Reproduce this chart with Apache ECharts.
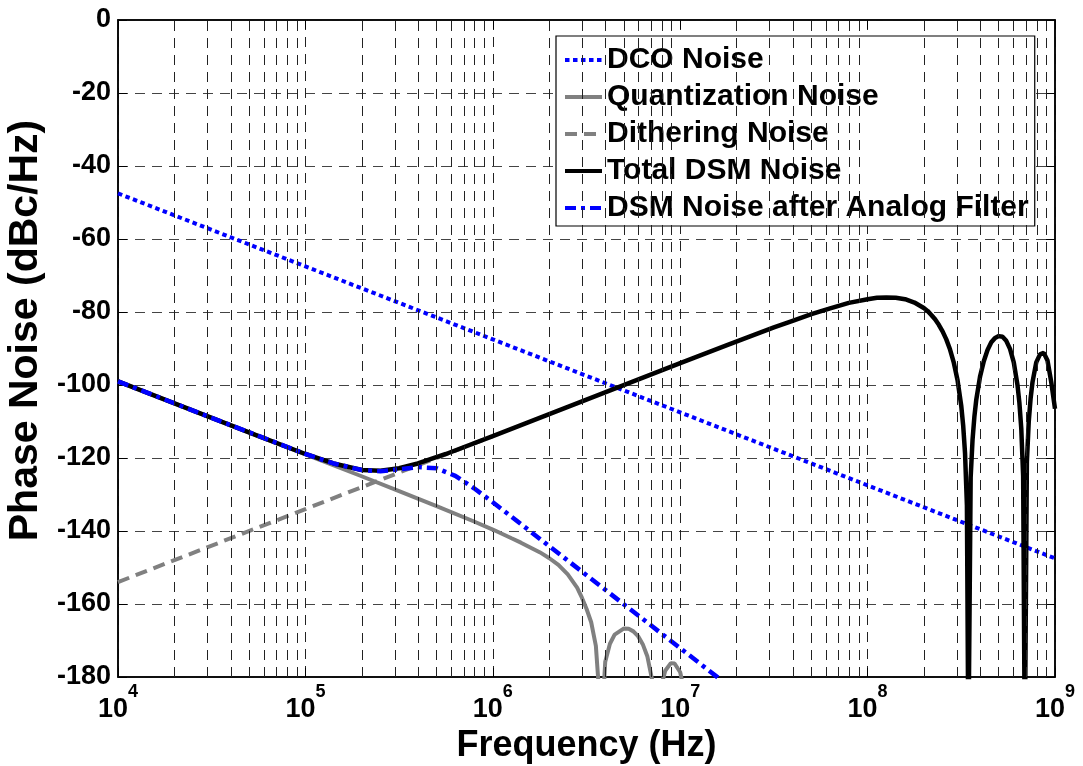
<!DOCTYPE html>
<html>
<head>
<meta charset="utf-8">
<script src="https://cdn.jsdelivr.net/npm/echarts@6/dist/echarts.min.js"></script>
<style>
html, body { margin: 0; padding: 0; background: #fff; }
#main { width: 1083px; height: 766px; }
</style>
</head>
<body>
<div id="main"></div>
<script>
// 数据
var xTickExps = [4, 5, 6, 7, 8, 9];
var minorFreqs = [];
var decades = [1e4, 1e5, 1e6, 1e7, 1e8];
var minorSteps = [2, 3, 4, 5, 6, 7, 8, 9];
for (var d of decades) {
    for (var m of minorSteps) minorFreqs.push(d * m);
}

var dcoFreq = [1e4, 1e5, 1e6, 1e7, 1e8, 1e9];
var dcoNoise = [-47.5, -67.5, -87.5, -107.5, -127.5, -147.5];

var quantFreq = [1e4, 3.162e4, 1e5, 1.995e5, 3.162e5, 5.012e5, 7.943e5, 1e6, 1.259e6, 1.413e6, 1.585e6,
    1.778e6, 1.995e6, 2.239e6, 2.512e6, 2.818e6, 2.985e6, 3.162e6, 3.35e6, 3.548e6, 3.715e6, 3.75e6,
    3.981e6, 4.217e6, 4.467e6, 5.012e6, 5.309e6, 5.623e6, 5.957e6, 6.31e6, 6.683e6, 7.079e6, 7.5e6,
    7.943e6, 8.318e6, 8.913e6, 9.333e6, 1e7, 1.0715e7];
var quantNoise = [-99, -109, -119, -125, -129.1, -133.2, -137.4, -139.6, -142, -143.2, -144.5,
    -145.8, -147.4, -149.3, -151.9, -155.5, -158.2, -161.3, -165, -171.5, -186, -200,
    -175.8, -170.9, -168.4, -166.7, -166.8, -167.5, -168.8, -171, -174.4, -180.7, -200,
    -182.3, -178.3, -176.2, -176.3, -178.7, -185.9];

var ditherFreq = [1e4, 1e5, 3.162e5, 1e6];
var ditherNoise = [-154, -134, -124, -114];

var totalFreq = [1e4, 1.778e4, 3.162e4, 5.623e4, 1e5, 1.413e5, 2e5, 2.512e5, 3.162e5, 3.981e5, 5.623e5,
    1e6, 1.778e6, 3.162e6, 5.623e6, 1e7, 1.778e7, 3.162e7, 3.981e7, 5.012e7, 6.31e7, 7.943e7,
    1e8, 1.122e8, 1.259e8, 1.413e8, 1.585e8, 1.778e8,
    1.995e8, 2.089e8, 2.188e8, 2.291e8, 2.399e8, 2.512e8, 2.63e8, 2.754e8, 2.884e8, 3.02e8,
    3.162e8, 3.236e8, 3.311e8, 3.388e8, 3.45e8, 3.548e8, 3.631e8, 3.715e8, 3.802e8,
    3.981e8, 4.169e8, 4.365e8, 4.571e8, 4.786e8, 5.012e8, 5.248e8, 5.495e8, 5.754e8, 6.026e8,
    6.31e8, 6.457e8, 6.607e8, 6.761e8, 6.9e8, 7.079e8, 7.244e8, 7.413e8, 7.586e8,
    7.943e8, 8.318e8, 8.71e8, 9.12e8, 9.55e8, 1e9];
var totalNoise = [-99, -104, -109, -114, -118.9, -121.5, -123.3, -123.5, -122.8, -121.5, -118.9,
    -114, -109, -104, -99, -94, -89.1, -84.2, -82.4, -80.6, -79, -77.5,
    -76.5, -76.1, -76, -76.1, -76.5, -77.4,
    -78.9, -79.7, -80.8, -82, -83.5, -85.3, -87.5, -90.3, -93.9, -98.7,
    -105.8, -111.1, -118.7, -132.9, -200, -125.3, -115, -108.6, -104,
    -97.7, -93.5, -90.4, -88.3, -87.1, -86.6, -86.8, -87.9, -90.1, -93.8,
    -100.1, -104.9, -111.9, -125, -200, -121, -110, -103.6, -99.2,
    -93.8, -91.6, -91.2, -93.3, -99.2, -106.5];

var filtFreq = [1e4, 3.162e4, 1e5, 1.413e5, 2e5, 2.512e5, 3.162e5, 3.981e5, 5.012e5, 6.31e5, 7.943e5,
    1e6, 1.259e6, 1.585e6, 2.512e6, 3.981e6, 6.31e6, 1e7, 1.585e7, 2e7];
var filtNoise = [-99, -109, -118.9, -121.5, -123.3, -123.6, -123.1, -122.5, -122.8, -124.9, -128.3,
    -132.1, -136.1, -140.1, -148.1, -156.1, -164.1, -172.1, -180.1, -186];

function pairs(xs, ys) {
    var out = [];
    for (var i = 0; i < xs.length; i++) out.push([xs[i], ys[i]]);
    return out;
}

var fontFam = '"Liberation Sans", Arial, Helvetica, sans-serif';

var myChart = echarts.init(document.getElementById('main'), null, { renderer: 'canvas' });

var option = {
    animation: false,
    backgroundColor: '#fff',
    textStyle: { fontFamily: fontFam },
    grid: {
        left: 118, right: 28, top: 20, bottom: 89,
        show: true, borderColor: '#000', borderWidth: 1.5,
        containLabel: false, outerBoundsMode: 'none'
    },
    legend: {
        orient: 'vertical',
        left: 556, top: 36,
        padding: [9, 6, 3, 7],
        itemGap: 7,
        itemWidth: 37, itemHeight: 30,
        backgroundColor: '#fff',
        borderColor: '#000', borderWidth: 1.2, borderRadius: 0,
        // 图例只显示线型，不显示圆点
        itemStyle: { color: 'rgba(0,0,0,0)', borderWidth: 0, opacity: 0 },
        lineStyle: { width: 4 },
        textStyle: { fontSize: 30, fontWeight: 'bold', color: '#000', fontFamily: fontFam, lineHeight: 30 },
        data: ['DCO Noise', 'Quantization Noise', 'Dithering Noise', 'Total DSM Noise', 'DSM Noise after Analog Filter']
    },
    xAxis: [{
        type: 'log', logBase: 10, min: 1e4, max: 1e9,
        name: 'Frequency (Hz)', nameLocation: 'middle', nameGap: 29,
        nameTextStyle: { fontSize: 36, fontWeight: 'bold', color: '#000', fontFamily: fontFam },
        axisLine: { show: true, onZero: false, lineStyle: { color: '#000', width: 1.5 } },
        axisTick: { show: true, inside: true, length: 9, lineStyle: { color: '#000' } },
        axisLabel: {
            margin: 6,
            formatter: function (value) {
                var e = Math.round(Math.log10(value));
                return xTickExps.indexOf(e) >= 0 ? '{b|10}{e|' + e + '}' : '';
            },
            rich: {
                b: { fontSize: 27, fontWeight: 'bold', color: '#000', fontFamily: fontFam, lineHeight: 40, verticalAlign: 'bottom' },
                e: { fontSize: 18, fontWeight: 'bold', color: '#000', fontFamily: fontFam, lineHeight: 12, verticalAlign: 'top' }
            }
        },
        splitLine: { show: true, lineStyle: { type: [10, 7], color: '#222', width: 1 } }
    }, {
        type: 'log', logBase: 10, min: 1e4, max: 1e9, position: 'top',
        axisLine: { show: true, onZero: false, lineStyle: { color: '#000', width: 1.5 } },
        axisTick: { show: true, inside: true, length: 9, lineStyle: { color: '#000' } },
        axisLabel: { show: false },
        splitLine: { show: false }
    }],
    yAxis: [{
        type: 'value', min: -180, max: 0, interval: 20,
        name: 'Phase Noise (dBc/Hz)', nameLocation: 'middle', nameGap: 71,
        nameTextStyle: { fontSize: 41, fontWeight: 'bold', color: '#000', fontFamily: fontFam, padding: [0, 0, 0, 36] },
        axisLine: { show: true, onZero: false, lineStyle: { color: '#000', width: 1.5 } },
        axisTick: { show: true, inside: true, length: 9, lineStyle: { color: '#000' } },
        axisLabel: { margin: 7, fontSize: 27, fontWeight: 'bold', color: '#000', fontFamily: fontFam },
        splitLine: { show: true, lineStyle: { type: [10, 7], color: '#444', width: 1 } }
    }, {
        type: 'value', min: -180, max: 0, interval: 20, position: 'right',
        axisLine: { show: true, onZero: false, lineStyle: { color: '#000', width: 1.5 } },
        axisTick: { show: true, inside: true, length: 9, lineStyle: { color: '#000' } },
        axisLabel: { show: false },
        splitLine: { show: false }
    }],
    series: [{
        // 对数坐标的次网格线 (2..9 × 10^n)
        name: 'minorGrid', type: 'line', data: [], z: 1, silent: true,
        markLine: {
            silent: true, symbol: ['none', 'none'], animation: false,
            label: { show: false },
            lineStyle: { type: [10, 7], color: '#222', width: 1 },
            emphasis: { disabled: true },
            data: minorFreqs.map(function (f) { return { xAxis: f }; })
        }
    }, {
        name: 'DCO Noise', type: 'line', symbol: 'none', showSymbol: false,
        data: pairs(dcoFreq, dcoNoise),
        lineStyle: { color: '#0000ff', width: 4, type: [4.5, 3.5] },
        itemStyle: { color: '#0000ff' }
    }, {
        name: 'Quantization Noise', type: 'line', symbol: 'none', showSymbol: false,
        data: pairs(quantFreq, quantNoise),
        lineStyle: { color: '#808080', width: 4 },
        itemStyle: { color: '#808080' }
    }, {
        name: 'Dithering Noise', type: 'line', symbol: 'none', showSymbol: false,
        data: pairs(ditherFreq, ditherNoise),
        lineStyle: { color: '#808080', width: 4, type: [12, 7] },
        itemStyle: { color: '#808080' }
    }, {
        name: 'Total DSM Noise', type: 'line', symbol: 'none', showSymbol: false,
        data: pairs(totalFreq, totalNoise),
        lineStyle: { color: '#000', width: 4.5 },
        itemStyle: { color: '#000' }
    }, {
        name: 'DSM Noise after Analog Filter', type: 'line', symbol: 'none', showSymbol: false,
        data: pairs(filtFreq, filtNoise),
        lineStyle: { color: '#0000ff', width: 4.5, type: [11, 5, 4, 5] },
        itemStyle: { color: '#0000ff' }
    }]
};

myChart.setOption(option);
</script>
</body>
</html>
